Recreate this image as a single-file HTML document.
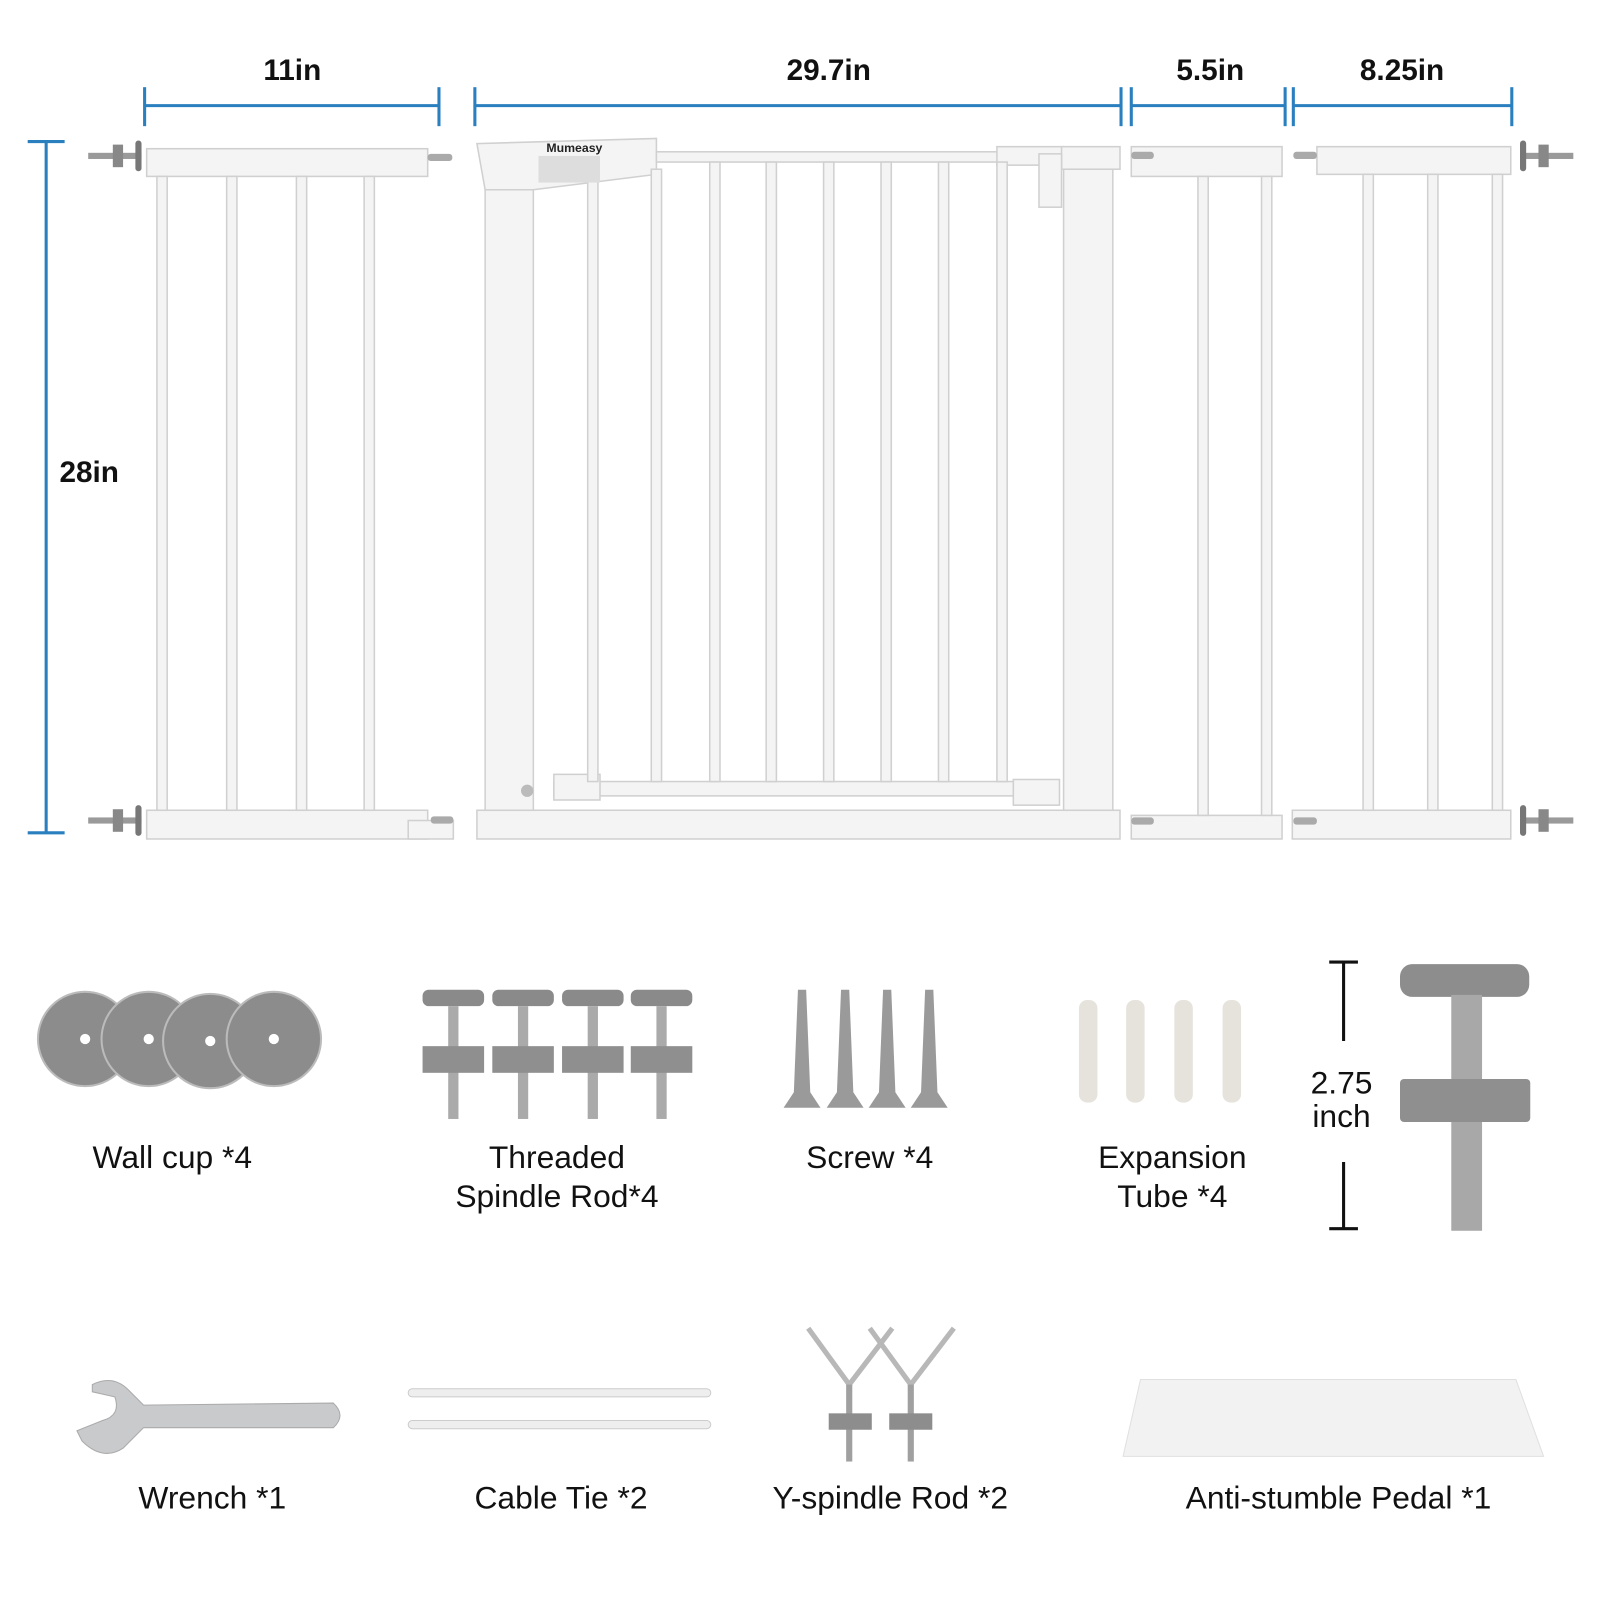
<!DOCTYPE html>
<html><head><meta charset="utf-8"><style>
html,body{margin:0;padding:0;background:#fff}
svg{display:block}
.d{font-family:"Liberation Sans",sans-serif;font-weight:bold;font-size:29px;fill:#111;text-anchor:middle}
.l{font-family:"Liberation Sans",sans-serif;font-size:31px;fill:#111;text-anchor:middle}
</style></head><body>
<svg width="1600" height="1600" viewBox="0 0 1560 1560" xmlns="http://www.w3.org/2000/svg">
<defs>
<g id="sp"><rect x="0" y="-3" width="52" height="6" fill="#9a9a9a"/><rect x="18" y="-11" width="10" height="22" fill="#888"/><rect x="0" y="-15" width="6" height="30" rx="3" fill="#777"/></g>
</defs>
<g stroke="#2a7fbf" stroke-width="3">
<line x1="141" y1="103" x2="428" y2="103"/><line x1="141" y1="85" x2="141" y2="123"/><line x1="428" y1="85" x2="428" y2="123"/>
<line x1="463" y1="103" x2="1093" y2="103"/><line x1="463" y1="85" x2="463" y2="123"/><line x1="1093" y1="85" x2="1093" y2="123"/>
<line x1="1103" y1="103" x2="1253" y2="103"/><line x1="1103" y1="85" x2="1103" y2="123"/><line x1="1253" y1="85" x2="1253" y2="123"/>
<line x1="1261" y1="103" x2="1474" y2="103"/><line x1="1261" y1="85" x2="1261" y2="123"/><line x1="1474" y1="85" x2="1474" y2="123"/>
<line x1="45" y1="138" x2="45" y2="812"/><line x1="27" y1="138" x2="63" y2="138"/><line x1="27" y1="812" x2="63" y2="812"/>
</g>
<text class="d" x="285" y="78">11in</text><text class="d" x="808" y="78">29.7in</text>
<text class="d" x="1180" y="78">5.5in</text><text class="d" x="1367" y="78">8.25in</text>
<text class="d" x="87" y="470">28in</text>
<g fill="#f4f4f4" stroke="#d0d0d0" stroke-width="1.5">
<rect x="143" y="145" width="274" height="27"/><rect x="143" y="790" width="274" height="28"/><rect x="398" y="800" width="44" height="18"/>
<rect x="153" y="172" width="10" height="618"/><rect x="221" y="172" width="10" height="618"/><rect x="289" y="172" width="10" height="618"/><rect x="355" y="172" width="10" height="618"/>
<rect x="465" y="790" width="627" height="28"/>
<rect x="473" y="150" width="47" height="640"/><rect x="1037" y="145" width="48" height="645"/>
<path d="M465 140 L640 135 L640 170 L560 180 L520 185 L473 185 Z"/>
<rect x="640" y="148" width="397" height="10"/><rect x="972" y="143" width="65" height="18"/><rect x="1035" y="143" width="57" height="22"/><rect x="1013" y="150" width="22" height="52"/>
<rect x="540" y="762" width="490" height="14"/><rect x="540" y="755" width="45" height="25"/><rect x="988" y="760" width="45" height="25"/>
<rect x="573" y="170" width="10" height="592"/><rect x="635" y="165" width="10" height="597"/><rect x="692" y="158" width="10" height="604"/><rect x="747" y="158" width="10" height="604"/><rect x="803" y="158" width="10" height="604"/><rect x="859" y="158" width="10" height="604"/><rect x="915" y="158" width="10" height="604"/><rect x="972" y="158" width="10" height="604"/>
<rect x="1103" y="143" width="147" height="29"/><rect x="1103" y="795" width="147" height="23"/><rect x="1168" y="172" width="10" height="623"/><rect x="1230" y="172" width="10" height="623"/>
<rect x="1284" y="143" width="189" height="27"/><rect x="1260" y="790" width="213" height="28"/><rect x="1329" y="170" width="10" height="620"/><rect x="1392" y="170" width="10" height="620"/><rect x="1455" y="170" width="10" height="620"/>
</g>
<rect x="525" y="152" width="60" height="26" fill="#ddd"/>
<text x="560" y="148" font-family="Liberation Sans" font-weight="bold" font-size="12" text-anchor="middle" fill="#222">Mumeasy</text>
<circle cx="514" cy="771" r="6" fill="#bbb"/>
<g fill="#aaa"><rect x="417" y="150" width="24" height="7" rx="3"/><rect x="420" y="796" width="22" height="7" rx="3"/><rect x="1103" y="148" width="22" height="7" rx="3"/><rect x="1103" y="797" width="22" height="7" rx="3"/><rect x="1261" y="148" width="23" height="7" rx="3"/><rect x="1261" y="797" width="23" height="7" rx="3"/></g>
<use href="#sp" transform="translate(138,152) scale(-1,1)"/><use href="#sp" transform="translate(138,800) scale(-1,1)"/>
<use href="#sp" transform="translate(1482,152)"/><use href="#sp" transform="translate(1482,800)"/>
<g fill="#8c8c8c" stroke="#bbb" stroke-width="2">
<circle cx="83" cy="1013" r="46"/><circle cx="145" cy="1013" r="46"/><circle cx="205" cy="1015" r="46"/><circle cx="267" cy="1013" r="46"/></g>
<g fill="#fff"><circle cx="83" cy="1013" r="5"/><circle cx="145" cy="1013" r="5"/><circle cx="205" cy="1015" r="5"/><circle cx="267" cy="1013" r="5"/></g>
<g>
<g transform="translate(442,965)"><rect x="-30" y="0" width="60" height="16" rx="6" fill="#8a8a8a"/><rect x="-5" y="16" width="10" height="110" fill="#aaa"/><rect x="-30" y="55" width="60" height="26" fill="#8f8f8f"/></g>
<g transform="translate(510,965)"><rect x="-30" y="0" width="60" height="16" rx="6" fill="#8a8a8a"/><rect x="-5" y="16" width="10" height="110" fill="#aaa"/><rect x="-30" y="55" width="60" height="26" fill="#8f8f8f"/></g>
<g transform="translate(578,965)"><rect x="-30" y="0" width="60" height="16" rx="6" fill="#8a8a8a"/><rect x="-5" y="16" width="10" height="110" fill="#aaa"/><rect x="-30" y="55" width="60" height="26" fill="#8f8f8f"/></g>
<g transform="translate(645,965)"><rect x="-30" y="0" width="60" height="16" rx="6" fill="#8a8a8a"/><rect x="-5" y="16" width="10" height="110" fill="#aaa"/><rect x="-30" y="55" width="60" height="26" fill="#8f8f8f"/></g>
</g>
<g fill="#9a9a9a"><path d="M778 965 l8 0 l4 100 l10 15 l-36 0 l10 -15 z"/><path d="M820 965 l8 0 l4 100 l10 15 l-36 0 l10 -15 z"/><path d="M861 965 l8 0 l4 100 l10 15 l-36 0 l10 -15 z"/><path d="M902 965 l8 0 l4 100 l10 15 l-36 0 l10 -15 z"/></g>
<g fill="#e6e3dc"><rect x="1052" y="975" width="18" height="100" rx="8"/><rect x="1098" y="975" width="18" height="100" rx="8"/><rect x="1145" y="975" width="18" height="100" rx="8"/><rect x="1192" y="975" width="18" height="100" rx="8"/></g>
<g stroke="#111" stroke-width="3"><line x1="1310" y1="938" x2="1310" y2="1015"/><line x1="1296" y1="938" x2="1324" y2="938"/><line x1="1310" y1="1133" x2="1310" y2="1198"/><line x1="1296" y1="1198" x2="1324" y2="1198"/></g>
<text class="l" x="1308" y="1066">2.75</text><text class="l" x="1308" y="1099">inch</text>
<rect x="1365" y="940" width="126" height="32" rx="12" fill="#8d8d8d"/>
<rect x="1415" y="970" width="30" height="230" fill="#a8a8a8"/>
<rect x="1365" y="1052" width="127" height="42" rx="4" fill="#8f8f8f"/>
<path d="M90 1350 Q110 1340 125 1355 L140 1370 L325 1368 Q338 1380 325 1392 L140 1392 L120 1412 Q100 1425 80 1405 L75 1395 L100 1385 Q118 1380 112 1362 L90 1357 Z" fill="#c8cacc" stroke="#aaa"/>
<g fill="#eee" stroke="#ccc"><rect x="398" y="1354" width="295" height="8" rx="4"/><rect x="398" y="1385" width="295" height="8" rx="4"/></g>
<g stroke="#b8b8b8" stroke-width="5" fill="none"><path d="M788 1295 L828 1350 L870 1295"/><path d="M848 1295 L888 1350 L930 1295"/></g>
<g fill="#a0a0a0"><rect x="825" y="1350" width="6" height="75"/><rect x="885" y="1350" width="6" height="75"/></g>
<g fill="#8d8d8d"><rect x="808" y="1378" width="42" height="16"/><rect x="867" y="1378" width="42" height="16"/></g>
<path d="M1112 1345 L1478 1345 L1505 1420 L1095 1420 Z" fill="#f2f2f2" stroke="#e0e0e0"/>
<text class="l" x="168" y="1139">Wall cup *4</text>
<text class="l" x="543" y="1139">Threaded</text><text class="l" x="543" y="1177">Spindle Rod*4</text>
<text class="l" x="848" y="1139">Screw *4</text>
<text class="l" x="1143" y="1139">Expansion</text><text class="l" x="1143" y="1177">Tube *4</text>
<text class="l" x="207" y="1471">Wrench *1</text>
<text class="l" x="547" y="1471">Cable Tie *2</text>
<text class="l" x="868" y="1471">Y-spindle Rod *2</text>
<text class="l" x="1305" y="1471">Anti-stumble Pedal *1</text>
</svg>
</body></html>
